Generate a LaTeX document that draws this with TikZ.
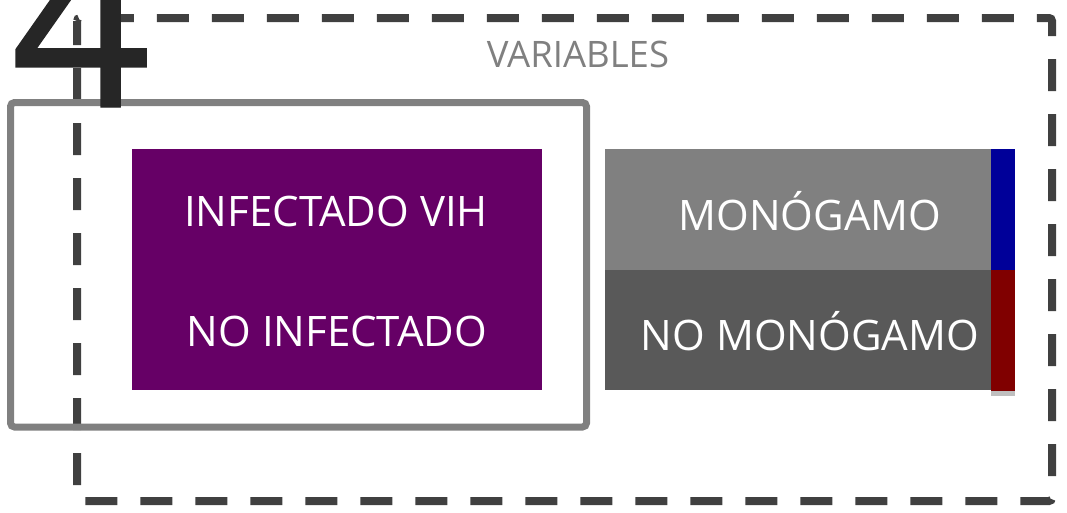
\documentclass[tikz,border=0pt]{standalone}
\usepackage{fontspec}
\setmainfont{Open Sans}
\newfontfamily\numfont[FakeBold=0.6]{Open Sans}
\definecolor{purp}{HTML}{660066}
\definecolor{lgray}{HTML}{808080}
\definecolor{dgray}{HTML}{595959}
\definecolor{dashc}{HTML}{404040}
\definecolor{bluebar}{HTML}{000099}
\definecolor{redbar}{HTML}{800000}
\definecolor{stripc}{HTML}{BFBFBF}
\definecolor{numc}{HTML}{262626}
\tikzset{
  block/.style={draw=none, inner sep=0pt, anchor=north west},
  boxtext/.style={text=white, font=\fontsize{42}{50}\selectfont, inner sep=0pt},
}
\begin{document}
\begin{tikzpicture}[x=1pt,y=-1pt]
\useasboundingbox (0,0) rectangle (1067,512);
% dashed outer frame
\draw[dashc, line width=8pt, dash pattern=on 32pt off 23pt, dash phase=8pt, rounded corners=3pt]
  (77,18) rectangle (1052,501);
\node[text=lgray, font=\fontsize{36.5}{42}\selectfont, inner sep=0pt] (vars) at (578,54) {VARIABLES};
% gray frame
\draw[lgray, line width=7pt, rounded corners=4pt] (10.5,102.5) rectangle (586.5,427);
% purple block
\node[block, fill=purp, minimum width=410pt, minimum height=241pt] (inf) at (132,149) {};
\node[boxtext] (t1) at (336,211) {INFECTADO VIH};
\node[boxtext] (t2) at (337,331) {NO INFECTADO};
% right blocks
\node[block, fill=lgray, minimum width=386pt, minimum height=121pt] (mono) at (605,149) {};
\node[block, fill=dgray, minimum width=386pt, minimum height=120pt] (nomono) at (605,270) {};
\node[block, fill=bluebar, minimum width=24pt, minimum height=121pt] (bb) at (991,149) {};
\node[block, fill=redbar, minimum width=24pt, minimum height=121pt] (rb) at (991,270) {};
\node[block, fill=stripc, minimum width=24pt, minimum height=5pt] (sb) at (991,391) {};
\node[boxtext] (t3) at (810,211) {MONÓGAMO};
\node[boxtext] (t4) at (810,331) {NO MONÓGAMO};
% big number
\node[text=numc, font=\fontsize{245}{250}\numfont, inner sep=0pt, anchor=base] (num) at (81,107) {4};
\end{tikzpicture}
\end{document}
